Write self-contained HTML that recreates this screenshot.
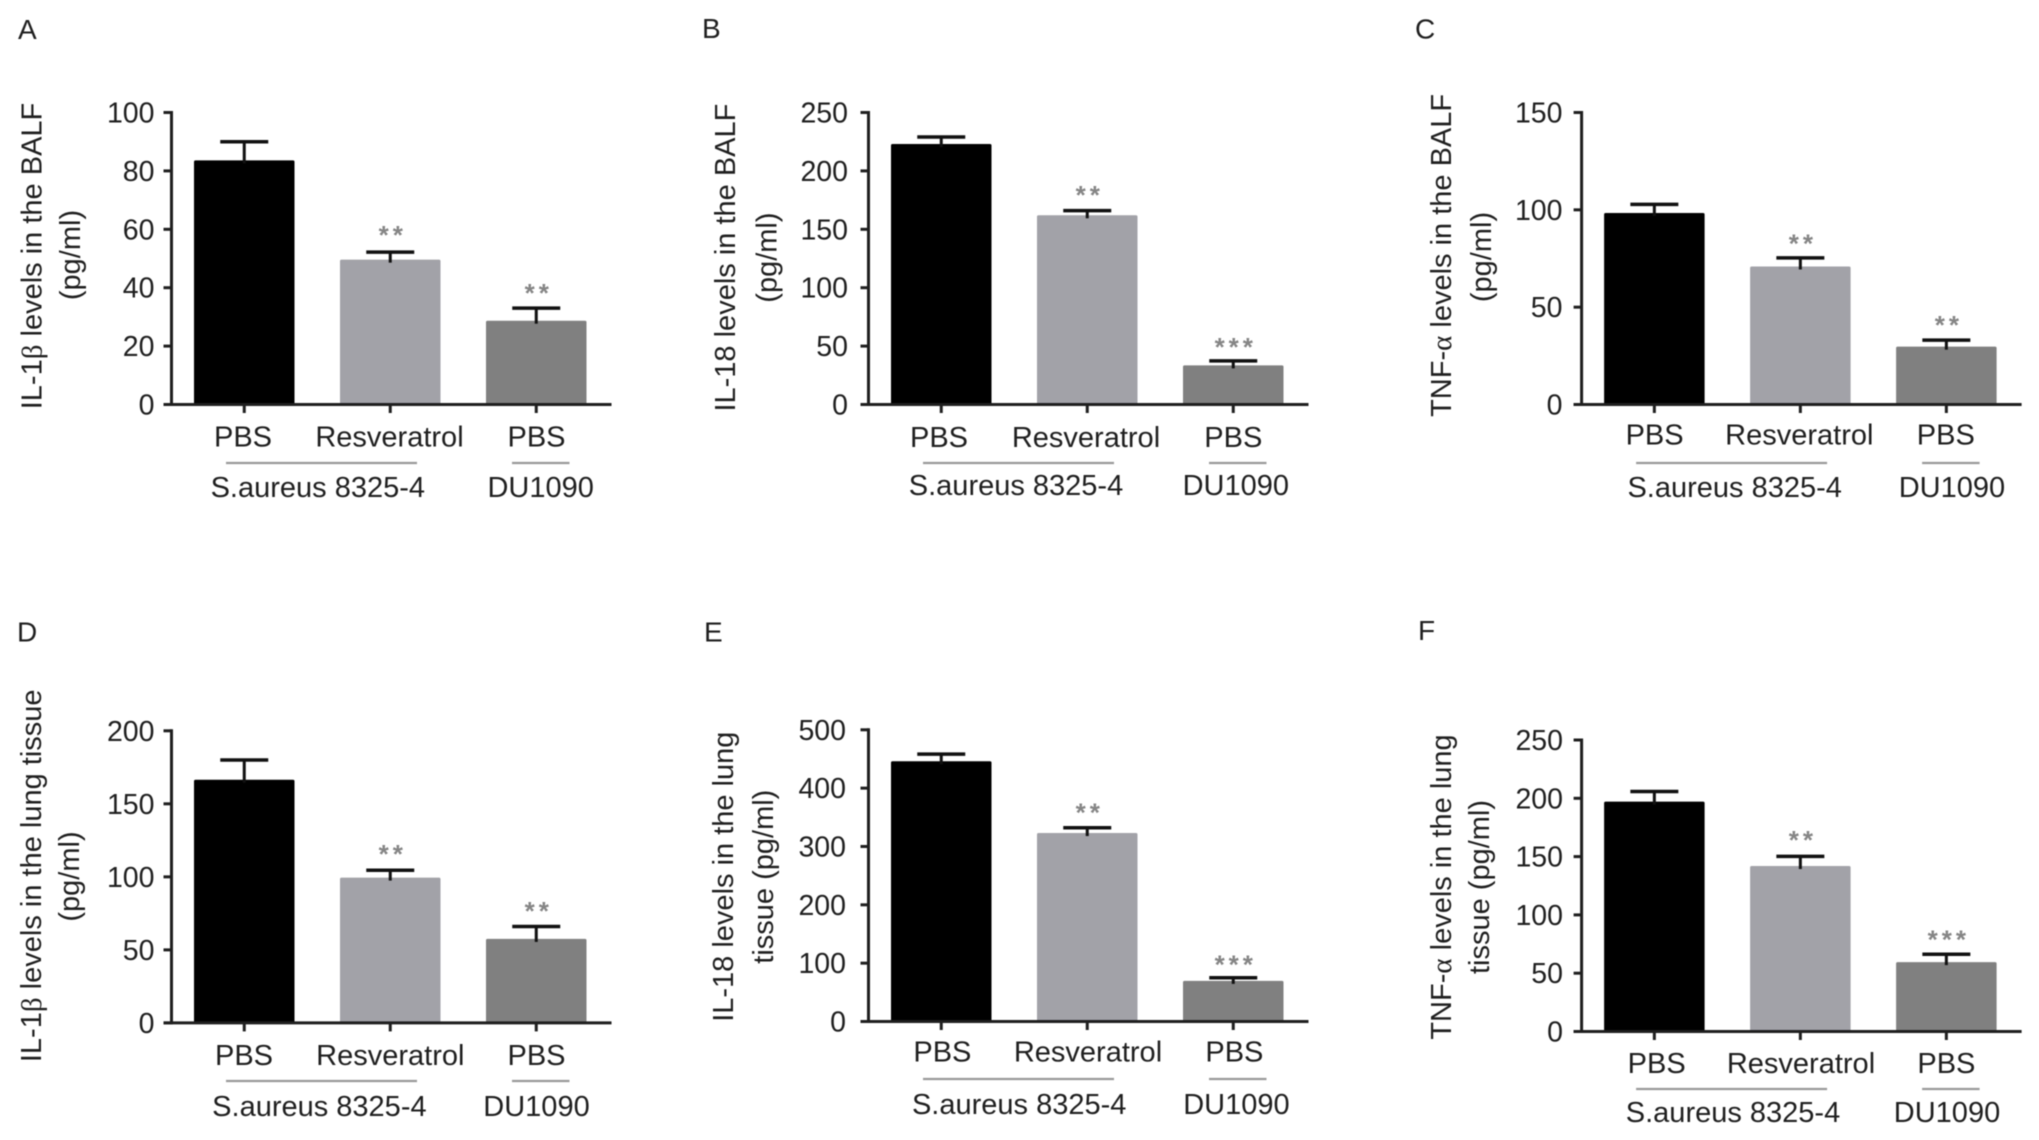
<!DOCTYPE html>
<html lang="en">
<head>
<meta charset="utf-8">
<title>Cytokine levels bar charts</title>
<style>
  html, body { margin: 0; padding: 0; background: #fff; }
  #figure { display: block; width: 2039px; height: 1140px; filter: blur(0.6px); font-family: "Liberation Sans", Arial, sans-serif; }
</style>
</head>
<body>
<svg id="figure" xmlns="http://www.w3.org/2000/svg" width="2039" height="1140" viewBox="0 0 2039 1140"></svg>
<script>
// ---- chart data ----
const categories = ['PBS', 'Resveratrol', 'PBS'];
const groupLabels = ['S.aureus 8325-4', 'DU1090'];

const panelAValues = [83.6, 49.6, 28.7];
const panelAUpper = [90, 52.2, 33];
const panelATicks = [0, 20, 40, 60, 80, 100];
const panelAStars = ['', '**', '**'];

const panelBValues = [223, 162, 33.5];
const panelBUpper = [229, 166, 37.3];
const panelBTicks = [0, 50, 100, 150, 200, 250];
const panelBStars = ['', '**', '***'];

const panelCValues = [98.4, 70.9, 29.7];
const panelCUpper = [102.8, 75.3, 33.1];
const panelCTicks = [0, 50, 100, 150];
const panelCStars = ['', '**', '**'];

const panelDValues = [166.5, 99.5, 57.5];
const panelDUpper = [180, 104.5, 66];
const panelDTicks = [0, 50, 100, 150, 200];
const panelDStars = ['', '**', '**'];

const panelEValues = [446, 323, 69.6];
const panelEUpper = [458.4, 332, 75];
const panelETicks = [0, 100, 200, 300, 400, 500];
const panelEStars = ['', '**', '***'];

const panelFValues = [197.2, 141.9, 59.5];
const panelFUpper = [205.8, 150.2, 66.2];
const panelFTicks = [0, 50, 100, 150, 200, 250];
const panelFStars = ['', '**', '***'];

// ---- layout (not data) ----
const barFills = ['#000000', '#a2a2a8', '#808080'];
const panels = [
  { id: 'a', letter: 'A', lx: 18, ly: 39, ax: 171.5, y0: 404.5, yTop: 112.5, vals: panelAValues, upper: panelAUpper, ticks: panelATicks, stars: panelAStars, tickRight: 154.5,
    starY: [0, 230, 288], catX: [243, 389.5, 536.5], catY: 446.5, lineY: 463, groupX: [317.8, 540.7], groupY: 497,
    titles: [['IL-1β levels in the BALF', 31.5, 256], ['(pg/ml)', 70, 255]] },
  { id: 'b', letter: 'B', lx: 702, ly: 38, ax: 868.5, y0: 404.5, yTop: 112.5, vals: panelBValues, upper: panelBUpper, ticks: panelBTicks, stars: panelBStars, tickRight: 848,
    starY: [0, 190, 342], catX: [939, 1086, 1233.3], catY: 447, lineY: 463, groupX: [1016, 1235.8], groupY: 495,
    titles: [['IL-18 levels in the BALF', 725, 257.6], ['(pg/ml)', 766.5, 257.6]] },
  { id: 'c', letter: 'C', lx: 1415, ly: 38.5, ax: 1581.6, y0: 404.5, yTop: 112.5, vals: panelCValues, upper: panelCUpper, ticks: panelCTicks, stars: panelCStars, tickRight: 1562.5,
    starY: [0, 238.5, 320], catX: [1654.6, 1799.3, 1945.8], catY: 444.5, lineY: 463, groupX: [1734.7, 1951.9], groupY: 497,
    titles: [['TNF-α levels in the BALF', 1441, 255.4], ['(pg/ml)', 1481, 257]] },
  { id: 'd', letter: 'D', lx: 17, ly: 641.5, ax: 171.5, y0: 1022.9, yTop: 730.8, vals: panelDValues, upper: panelDUpper, ticks: panelDTicks, stars: panelDStars, tickRight: 154.5,
    starY: [0, 848.8, 906], catX: [244, 390.3, 536.5], catY: 1065, lineY: 1081, groupX: [319.4, 536.5], groupY: 1116,
    titles: [['IL-1β levels in the lung tissue', 31, 875.8], ['(pg/ml)', 69, 876.5]] },
  { id: 'e', letter: 'E', lx: 704, ly: 641.5, ax: 868.5, y0: 1021.5, yTop: 729.8, vals: panelEValues, upper: panelEUpper, ticks: panelETicks, stars: panelEStars, tickRight: 846,
    starY: [0, 807.6, 959.5], catX: [942.4, 1088, 1234.4], catY: 1061.5, lineY: 1079, groupX: [1019.2, 1236.4], groupY: 1114,
    titles: [['IL-18 levels in the lung', 723, 876.7], ['tissue (pg/ml)', 763, 876.7]] },
  { id: 'f', letter: 'F', lx: 1418, ly: 640, ax: 1581.6, y0: 1031.5, yTop: 740, vals: panelFValues, upper: panelFUpper, ticks: panelFTicks, stars: panelFStars, tickRight: 1563,
    starY: [0, 835, 934.6], catX: [1656.7, 1801, 1946.4], catY: 1073, lineY: 1089, groupX: [1733, 1947], groupY: 1122,
    titles: [['TNF-α levels in the lung', 1441, 887], ['tissue (pg/ml)', 1479, 887]] }
];

const svgNS = 'http://www.w3.org/2000/svg';
const root = document.getElementById('figure');
const inkColor = '#1f1f1f';
const axisWidth = 3;
const barOffsets = [22.5, 168.5, 314.5];
const barWidth = 100.5;
const axisLength = 440;
const labelSize = 29;
const titleSize = 29;

function make(tag, attrs, parent) {
  const el = document.createElementNS(svgNS, tag);
  for (const k in attrs) el.setAttribute(k, attrs[k]);
  parent.appendChild(el);
  return el;
}

function drawLabel(parent, str, x, y, anchor, size, fill) {
  const t = make('text', { x: x, y: y, 'text-anchor': anchor, 'font-size': size, fill: fill }, parent);
  t.textContent = str;
  return t;
}

function drawTitle(parent, str, cx, cy) {
  const t = make('text', { 'text-anchor': 'middle', 'font-size': titleSize, fill: inkColor,
    transform: 'translate(' + (cx + 10) + ',' + cy + ') rotate(-90)' }, parent);
  str.split(/([αβ])/).forEach(function (part) {
    if (!part) return;
    const s = make('tspan', /[αβ]/.test(part) ? { 'font-family': '"Liberation Serif", serif' } : {}, t);
    s.textContent = part;
  });
  return t;
}

panels.forEach(function (p) {
  const g = make('g', {}, root);
  
  

  const maxTick = p.ticks[p.ticks.length - 1];
  const yScale = function (v) { return p.y0 - (v / maxTick) * (p.y0 - p.yTop); };
  const xScale = function (i) { return p.ax + barOffsets[i]; };

  const letter = drawLabel(g, p.letter, p.lx, p.ly, 'start', 28, inkColor);
  
  

  // bars
  p.vals.forEach(function (v, i) {
    const bar = make('rect', { x: xScale(i), y: yScale(v), width: barWidth, height: p.y0 - yScale(v), fill: barFills[i], rx: 1.5 }, g);
    
    
  });

  // error bars
  p.upper.forEach(function (u, i) {
    const cx = xScale(i) + barWidth / 2;
    const stem = make('line', { x1: cx, x2: cx, y1: yScale(p.vals[i]) + 3, y2: yScale(u), stroke: '#111', 'stroke-width': 3 }, g);
    
    
    const cap = make('line', { x1: cx - 24, x2: cx + 24, y1: yScale(u), y2: yScale(u), stroke: '#111', 'stroke-width': 3.5 }, g);
    
    
  });

  // significance stars
  p.stars.forEach(function (s, i) {
    if (!s) return;
    const t = drawLabel(g, s, xScale(i) + barWidth / 2 + 2.5, p.starY[i] + 14, 'middle', 26, '#858585');
    t.setAttribute('letter-spacing', '4');
    t.setAttribute('font-weight', 'bold');
    
    
  });

  // y axis
  const yAxis = make('line', { x1: p.ax, x2: p.ax, y1: p.yTop - 1.5, y2: p.y0 + 1.5, stroke: inkColor, 'stroke-width': axisWidth }, g);
  
  
  p.ticks.forEach(function (tv) {
    const mark = make('line', { x1: p.ax - 8, x2: p.ax, y1: yScale(tv), y2: yScale(tv), stroke: inkColor, 'stroke-width': axisWidth }, g);
    
    
    const lab = drawLabel(g, String(tv), p.tickRight, yScale(tv) + 10, 'end', 28.5, inkColor);
    
    
  });

  // x axis
  const xAxis = make('line', { x1: p.ax - 8, x2: p.ax + axisLength, y1: p.y0, y2: p.y0, stroke: inkColor, 'stroke-width': axisWidth }, g);
  
  
  categories.forEach(function (c, i) {
    const cx = xScale(i) + barWidth / 2;
    const tick = make('line', { x1: cx, x2: cx, y1: p.y0, y2: p.y0 + 8.5, stroke: inkColor, 'stroke-width': axisWidth }, g);
    
    
    const lab = drawLabel(g, c, p.catX[i], p.catY, 'middle', labelSize, inkColor);
    
    
  });

  // group brackets and labels
  const line1 = make('line', { x1: p.ax + 54.5, x2: p.ax + 245.5, y1: p.lineY, y2: p.lineY, stroke: '#9a9a9a', 'stroke-width': 2.2 }, g);
  
  
  const line2 = make('line', { x1: p.ax + 340.5, x2: p.ax + 398, y1: p.lineY, y2: p.lineY, stroke: '#9a9a9a', 'stroke-width': 2.2 }, g);
  
  
  groupLabels.forEach(function (gl, i) {
    const lab = drawLabel(g, gl, p.groupX[i], p.groupY, 'middle', labelSize, inkColor);
    
    
  });

  // y title
  p.titles.forEach(function (tt) {
    const title = drawTitle(g, tt[0], tt[1], tt[2]);
    
    
  });
});
</script>
</body>
</html>
